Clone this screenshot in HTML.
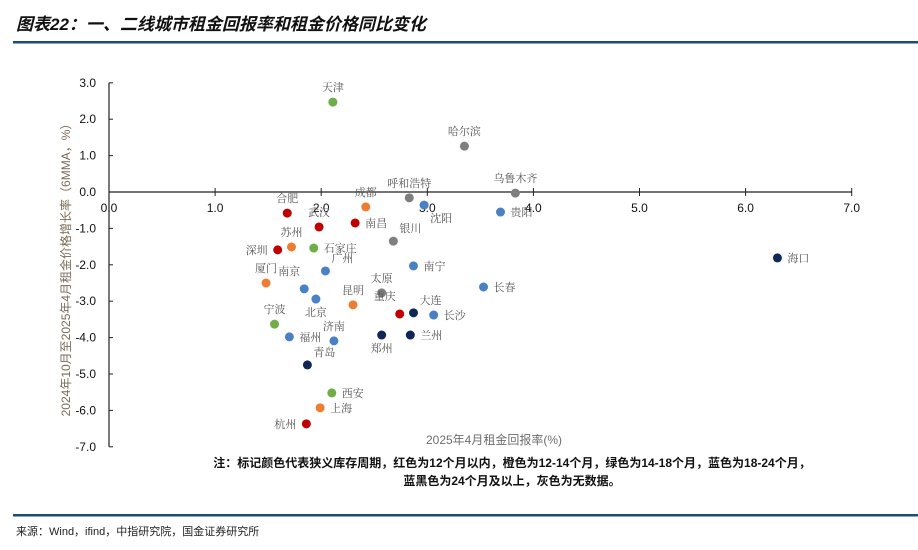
<!DOCTYPE html>
<html><head><meta charset="utf-8"><style>
body{margin:0;background:#fff;width:918px;height:545px;overflow:hidden;font-family:"Liberation Sans","Noto Sans CJK SC",sans-serif}
</style></head><body>
<svg width="918" height="545" xmlns="http://www.w3.org/2000/svg">
<text x="16" y="30" font-size="17" font-weight="bold" font-style="italic" fill="#111" font-family="Liberation Sans,Noto Sans CJK SC,sans-serif">图表22：一、二线城市租金回报率和租金价格同比变化</text>
<rect x="13" y="41" width="905" height="2.5" fill="#1b4f72"/>
<g id="axes"></g>
<g id="marks"></g>
<text x="494" y="444" text-anchor="middle" font-size="12" fill="#6e6e6e">2025年4月租金回报率(%)</text>
<text transform="translate(70,267) rotate(-90)" text-anchor="middle" font-size="12" fill="#7a6a55">2024年10月至2025年4月租金价格增长率（6MMA，%）</text>
<text x="512" y="467" text-anchor="middle" font-size="12" font-weight="bold" fill="#111">注：标记颜色代表狭义库存周期，红色为12个月以内，橙色为12-14个月，绿色为14-18个月，蓝色为18-24个月，</text>
<text x="512" y="485" text-anchor="middle" font-size="12" font-weight="bold" fill="#111">蓝黑色为24个月及以上，灰色为无数据。</text>
<rect x="13" y="514" width="905" height="2.5" fill="#1b4f72"/>
<text x="16" y="535" font-size="11" fill="#222">来源：Wind，ifind，中指研究院，国金证券研究所</text>
</svg>
<script>
const cities=["天津","哈尔滨","乌鲁木齐","呼和浩特","沈阳","贵阳","合肥","成都","武汉","南昌","银川","苏州","深圳","石家庄","广州","南宁","厦门","长春","南京","北京","太原","昆明","重庆","大连","长沙","宁波","福州","济南","郑州","兰州","青岛","西安","上海","杭州","海口"];
const yieldVals=[2.11,3.35,3.83,2.83,2.97,3.69,1.68,2.42,1.98,2.32,2.68,1.72,1.59,1.93,2.04,2.87,1.48,3.53,1.84,1.95,2.57,2.30,2.74,2.87,3.06,1.56,1.70,2.12,2.57,2.84,1.87,2.10,1.99,1.86,6.30];
const growthVals=[2.47,1.26,-0.03,-0.16,-0.36,-0.55,-0.58,-0.41,-0.96,-0.85,-1.35,-1.51,-1.59,-1.54,-2.17,-2.03,-2.50,-2.61,-2.66,-2.94,-2.77,-3.10,-3.35,-3.32,-3.38,-3.63,-3.98,-4.09,-3.93,-3.93,-4.75,-5.52,-5.93,-6.37,-1.81];
const cycleGroup=["green","gray","gray","gray","blue","blue","red","orange","red","red","gray","orange","red","green","blue","blue","orange","blue","blue","blue","gray","orange","red","navy","blue","green","blue","blue","navy","navy","navy","green","orange","red","navy"];
const xTicks=[0,1,2,3,4,5,6,7];
const yTicks=[3,2,1,0,-1,-2,-3,-4,-5,-6,-7];
const colors={red:"#c00000",orange:"#ed7d31",green:"#70ad47",blue:"#4a80c4",navy:"#0f2757",gray:"#7f7f7f"};
const lab={"天津":"t","哈尔滨":"t","乌鲁木齐":"t","呼和浩特":"t","沈阳":"br","贵阳":"r","合肥":"t","成都":"t","武汉":"t","南昌":"r","银川":"tr","苏州":"t","深圳":"l","石家庄":"r","广州":"tr","南宁":"r","厦门":"t","长春":"r","南京":"tl","北京":"b","太原":"t","昆明":"t","重庆":"tl","大连":"tr","长沙":"r","宁波":"t","福州":"r","济南":"t","郑州":"b","兰州":"r","青岛":"tr","西安":"r","上海":"r","杭州":"l","海口":"r"};
const X=v=>109+v*106.1, Y=v=>192-v*36.4;
const NS="http://www.w3.org/2000/svg";
const ax=document.getElementById('axes'), mk=document.getElementById('marks');
function el(t,a,p){const e=document.createElementNS(NS,t);for(const k in a)e.setAttribute(k,a[k]);p.appendChild(e);return e;}
let l=el('line',{x1:X(0),x2:X(7),y1:Y(0),y2:Y(0),stroke:"#222","stroke-width":1.2},ax);


l=el('line',{x1:X(0),x2:X(0),y1:Y(3),y2:Y(-7),stroke:"#222","stroke-width":1.2},ax);


xTicks.forEach(v=>{
 el('line',{x1:X(v),x2:X(v),y1:Y(0)-4,y2:Y(0)+4,stroke:"#222"},ax);
 const t=el('text',{x:X(v),y:Y(0)+20,"text-anchor":"middle","font-size":12,fill:"#111"},ax);
 t.textContent=v.toFixed(1);
 
 
});
yTicks.forEach(v=>{
 el('line',{x1:X(0),x2:X(0)+4,y1:Y(v),y2:Y(v),stroke:"#222"},ax);
 const t=el('text',{x:96,y:Y(v)+4,"text-anchor":"end","font-size":12,fill:"#111"},ax);
 t.textContent=v.toFixed(1);
 
 
});
const off={t:[0,-11,"middle"],b:[0,17,"middle"],r:[10,4,"start"],l:[-10,4,"end"],tr:[6,-9,"start"],tl:[-4,-14,"end"],br:[6,17,"start"]};
cities.forEach((c,i)=>{
 const cx=X(yieldVals[i]),cy=Y(growthVals[i]);
 const d=el('circle',{cx:cx,cy:cy,r:4.5,fill:colors[cycleGroup[i]]},mk);
 
 
 const o=off[lab[c]||"r"];
 const t=el('text',{x:cx+o[0],y:cy+o[1],"text-anchor":o[2],"font-size":11,fill:"#555","font-family":"Noto Serif CJK SC,serif"},mk);
 t.textContent=c;
 
 
});
</script>
</body></html>
